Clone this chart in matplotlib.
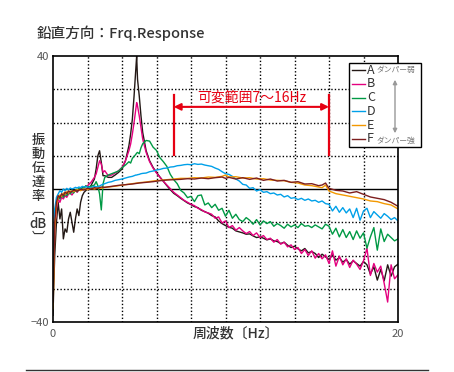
#!/usr/bin/env python3
# -*- coding: utf-8 -*-
"""
plot.py

Vertical transmissibility (Frq.Response) for damper settings A-F
"""
import matplotlib
matplotlib.use('Agg')
import matplotlib.pyplot as plt
from matplotlib.lines import Line2D
from matplotlib.patches import Rectangle, FancyArrowPatch

plt.rcParams['font.family'] = ['Noto Sans CJK JP', 'DejaVu Sans']

### data (dB vs Hz)

FREQ = [0.0, 0.05, 0.1,
        0.2, 0.3, 0.4, 0.5, 0.6, 0.7, 0.8, 0.9, 1.0,
        1.1, 1.2, 1.3, 1.4, 1.5, 1.6, 1.7, 1.8, 1.9, 2.0,
        2.2, 2.4, 2.5, 2.6, 2.7, 2.8, 2.9, 3.0,
        3.2, 3.4, 3.6, 3.8, 4.0, 4.2, 4.4,
        4.5, 4.6, 4.7, 4.8, 4.85, 4.9, 5.0, 5.1, 5.2,
        5.4, 5.6, 5.8, 6.0, 6.2, 6.4, 6.6, 6.8, 7.0,
        7.2, 7.4, 7.6, 7.8, 8.0, 8.2, 8.4, 8.6, 8.8, 9.0,
        9.2, 9.4, 9.6, 9.8, 10.0, 10.2, 10.4, 10.6, 10.8, 11.0,
        11.2, 11.4, 11.6, 11.8, 12.0, 12.2, 12.4, 12.6, 12.8, 13.0,
        13.2, 13.4, 13.6, 13.8, 14.0, 14.2, 14.4, 14.6, 14.8, 15.0,
        15.2, 15.4, 15.6, 15.8, 16.0, 16.2, 16.4, 16.6, 16.8, 17.0,
        17.2, 17.4, 17.6, 17.8, 18.0, 18.2, 18.4, 18.6, 18.8, 19.0,
        19.2, 19.4, 19.6, 19.8, 20.0]

A_DB = [-38, -28, -20,
        -10, -4, -9, -6, -15, -12, -13, -9, -7,
        -10, -13, -9, -6, -8, -4, -2, -1, -0.5, 0,
        1, 3, 6, 10, 11.5, 8, 4, 4,
        3.5, 3.5, 4.2, 5, 6, 8.5, 13,
        16.5, 21, 28, 36, 40, 33, 28, 22, 17,
        11.5, 8.5, 6.5, 5, 3.6, 2.3, 1.0, -0.2, -1.3,
        -2.0, -2.8, -3.5, -4.2, -4.7, -5.3, -5.6, -6.4, -6.8, -7.3,
        -8.0, -8.4, -9.6, -10.4, -11.0, -11.5, -11.8, -12.6, -12.9, -13.2,
        -13.6, -13.5, -14.1, -14.6, -14.4, -14.8, -15.3, -15.0, -15.6, -15.8,
        -16.4, -16.0, -16.9, -17.6, -17.2, -18.0, -18.6, -17.9, -19.2, -18.8,
        -19.4, -20.6, -19.6, -20.4, -21.2, -19.8, -21.4, -20.6, -22.0, -21.2,
        -22.6, -21.6, -22.4, -23.2, -21.8, -22.8, -25.6, -23.4, -27.4, -24.2,
        -27.6, -22.8, -26.2, -23.4, -22.6]

B_DB = [-26, -22, -12,
        -6, -3, -4, -2.5, -3, -2, -2.5, -1.5, -1.2,
        -1.8, -1, -0.5, -1, -0.3, 0, 0.3, 0.5, 0.8, 1,
        2, 3.5, 4.5, 6.5, 8.5, 7.5, 5, 5.5,
        4, 4.2, 4.8, 5.5, 6.5, 8.5, 11.5,
        13.5, 16.5, 20, 24, 26, 25, 22, 18.5, 15,
        11, 8.2, 6.3, 4.8, 3.5, 2.3, 1.2, 0.1, -1.0,
        -1.8, -2.6, -3.4, -4.0, -4.6, -5.0, -5.8, -6.2, -6.9, -7.2,
        -7.6, -8.8, -8.4, -10.2, -9.6, -11.6, -11.0, -12.4, -11.6, -12.6,
        -13.4, -12.8, -14.0, -13.2, -14.6, -14.0, -15.2, -14.8, -16.0, -15.2,
        -16.6, -16.0, -17.4, -16.8, -18.2, -17.6, -19.4, -18.2, -20.0, -18.6,
        -20.8, -19.4, -21.0, -19.8, -22.4, -18.6, -23.2, -20.2, -22.8, -21.0,
        -23.6, -21.4, -22.6, -24.2, -21.6, -17.8, -26.0, -22.4, -25.0, -23.2,
        -28.4, -34.0, -22.8, -27.0, -25.8]

C_DB = [-32, -20, -8,
        -4, -2.5, -3, -1.8, -2.5, -1.5, -2, -1, -1.5,
        -0.6, -1.2, -0.2, -0.8, 0.2, -0.3, 0.5, 0.2, 1.0, 0.5,
        0.8, 1.2, 2.2, 1.0, -1.5, -6.3, 1.5, 3.5,
        4.2, 4.6, 5.0, 5.4, 6.4, 7.2, 8.2,
        7.8, 9.2, 9.8, 10.4, 10.8, 11.0, 10.6, 12.4, 13.6,
        14.6, 14.4, 12.6, 11.6, 9.4, 8.2, 6.8, 4.4, 2.8,
        1.6, -0.4, -1.2, -2.6, -2.2, -3.8, -2.0, -1.8, -4.8, -4.2,
        -5.6, -4.6, -6.4, -5.8, -8.2, -6.4, -8.8, -7.6, -9.2, -9.8,
        -8.6, -9.4, -10.6, -9.2, -10.8, -9.6, -10.4, -9.8, -11.2, -10.4,
        -11.0, -11.8, -10.6, -11.4, -10.8, -11.6, -10.4, -11.2, -11.0, -11.6,
        -10.8, -11.4, -12.0, -10.6, -11.2, -13.6, -11.8, -14.4, -12.2, -14.6,
        -12.8, -15.2, -12.6, -14.8, -13.2, -17.8, -14.4, -11.6, -18.4, -12.0,
        -15.8, -13.6, -14.6, -15.6, -15.0]

D_DB = [-30, -18, -6,
        -2.5, -1.5, -0.5, -1.0, 0.0, -0.5, 0.2, -0.3, 0.3,
        0.0, 0.2, 0.5, 0.3, 0.6, 0.4, 0.8, 0.6, 0.7, 0.6,
        0.4, 0.8, 0.7, 0.6, 0.9, 1.2, 1.4, 1.6,
        2.0, 2.2, 2.6, 2.8, 3.0, 3.3, 3.6,
        3.7, 3.8, 4.0, 4.2, 4.2, 4.3, 4.4, 4.6, 4.7,
        4.8, 5.2, 5.4, 5.7, 5.9, 6.2, 6.3, 6.6, 6.7,
        7.0, 7.1, 7.3, 7.4, 7.3, 7.6, 7.4, 7.5, 7.2, 7.0,
        6.8, 6.3, 5.9, 5.2, 4.6, 4.4, 3.8, 3.0, 2.4, 1.4,
        1.2, 0.2, 0.4, -0.6, -0.2, -1.0, -0.8, -1.4, -1.2, -1.8,
        -1.6, -2.4, -2.0, -2.8, -2.6, -3.2, -2.8, -3.4, -3.0, -3.6,
        -3.4, -4.0, -3.6, -4.4, -4.6, -6.6, -5.2, -7.0, -5.6, -7.2,
        -6.0, -8.6, -5.8, -9.4, -6.6, -5.8, -8.6, -6.8, -7.8, -8.8,
        -7.4, -8.2, -9.2, -8.6, -9.6]

FREQ_EF = [0.0, 0.05, 0.1,
           0.2, 0.3, 0.4, 0.5, 0.6, 0.7, 0.8, 0.9, 1.0,
           1.2, 1.4, 1.6, 1.8, 2.0, 2.2, 2.4, 2.6, 2.8, 3.0,
           3.4, 3.8, 4.2, 4.6, 5.0, 5.4, 5.8, 6.2, 6.6, 7.0,
           7.4, 7.8, 8.2, 8.6, 9.0, 9.4, 9.8,
           10.0, 10.2,
           10.6, 11.0, 11.4, 11.8, 12.2, 12.6, 13.0, 13.4, 13.8, 14.2, 14.6, 15.0, 15.4,
           15.6, 15.8, 16.0,
           16.4, 16.8, 17.2, 17.6, 18.0, 18.4, 18.8, 19.2, 19.6, 20.0]

E_DB = [-36, -26, -12,
        -5, -2.5, -1.8, -2.2, -1.2, -1.6, -0.8, -1.2, -0.6,
        -0.8, -0.2, -0.5, 0.0, -0.2, 0.2, 0.0, 0.3, 0.2, 0.5,
        0.7, 1.0, 1.3, 1.6, 1.9, 2.1, 2.4, 2.6, 2.8, 3.0,
        3.2, 3.2, 3.4, 3.3, 3.6, 3.5, 3.8,
        4.2, 3.6,
        3.7, 3.3, 3.4, 3.0, 3.1, 2.7, 2.6, 2.5, 2.0, 1.8, 1.2, 1.0, 0.6,
        0.4, 1.2, -0.6,
        -1.4, -1.8, -2.2, -2.6, -3.0, -3.6, -3.8, -4.4, -4.8, -6.0]

F_DB = [-34, -24, -10,
        -4, -2.0, -2.6, -1.4, -2.0, -0.9, -1.4, -0.6, -1.0,
        -0.4, -0.6, -0.1, -0.3, 0.2, 0.0, 0.4, 0.2, 0.6, 0.5,
        0.8, 1.1, 1.3, 1.5, 1.8, 2.0, 2.2, 2.5, 2.7, 2.8,
        2.9, 3.1, 3.0, 3.3, 3.1, 3.4, 3.6,
        3.2, 3.5,
        3.0, 3.4, 2.9, 3.3, 2.6, 3.0, 2.4, 2.6, 2.0, 2.2, 1.5, 1.6, 1.0,
        1.2, 1.8, 0.2,
        -0.4, -0.6, -1.2, -0.8, -1.6, -2.4, -2.8, -3.2, -4.0, -5.2]

NAMES  = ['A', 'B', 'C', 'D', 'E', 'F']
COLORS = ['#231815', '#e4007f', '#009944', '#00a0e9', '#f39800', '#7d1e1e']

RANGE_HZ = [7, 16]
RANGE_LABEL = '可変範囲7〜16Hz'

W_PX, H_PX = 454, 372
RED = '#e60012'
TEXT = '#333333'


def fx(px):
    ''' pixel x -> figure fraction '''
    return px / W_PX


def fy(py):
    ''' pixel y (from top) -> figure fraction '''
    return 1 - py / H_PX


def setup_axes(fig):
    '''
    Axes, limits, dotted grid & frame
    '''
    axis = fig.add_axes([fx(53), fy(322), fx(345), 266 / H_PX])
    axis.set_xlim(0, 20)
    axis.set_ylim(-40, 40)
    axis.set_xticks([0, 20])
    axis.set_yticks([-40, 40])
    axis.set_xticks([2, 4, 6, 8, 10, 12, 14, 16, 18], minor=True)
    axis.set_yticks([-30, -20, -10, 10, 20, 30], minor=True)
    axis.tick_params(which='both', length=0, labelsize=8, labelcolor='#555555')
    axis.tick_params(axis='x', pad=5)
    axis.tick_params(axis='y', pad=3)
    axis.grid(which='minor', color='black', linestyle=(0, (1, 1.5)), linewidth=1.0)
    axis.axhline(0, color='black', linewidth=1.0, zorder=1.5)
    for spine in axis.spines.values():
        spine.set_linewidth(1.2)
    return axis


def plot_series(axis):
    '''
    Draw the six damper curves
    '''
    series = [(FREQ, A_DB), (FREQ, B_DB), (FREQ, C_DB),
              (FREQ, D_DB), (FREQ_EF, E_DB), (FREQ_EF, F_DB)]
    for (freq, vals), color in zip(series, COLORS):
        axis.plot(freq, vals, color=color, linewidth=1.0, zorder=2)


def plot_range(axis):
    '''
    Red bracket marking the adjustable range
    '''
    for hz in RANGE_HZ:
        axis.plot([hz, hz], [10.2, 28.3], color=RED, linewidth=1.6, zorder=3)
    axis.annotate('', xy=(RANGE_HZ[1], 24.7), xytext=(RANGE_HZ[0], 24.7),
                  arrowprops=dict(arrowstyle='<|-|>', color=RED, linewidth=1.5,
                                  mutation_scale=10, shrinkA=0, shrinkB=0),
                  zorder=3)
    axis.text(sum(RANGE_HZ) / 2 + 0.05, 27.6, RANGE_LABEL, color=RED,
              fontsize=10, ha='center', va='center', zorder=3)


def draw_legend(fig):
    '''
    Hand-built legend box (sticks out past the right spine)
    '''
    fig.add_artist(Rectangle((fx(349), fy(147)), fx(72), 84 / H_PX,
                             facecolor='white', edgecolor='black',
                             linewidth=1.0, zorder=5))
    for i, (name, color) in enumerate(zip(NAMES, COLORS)):
        y = fy(70 + i * 13.8)
        fig.add_artist(Line2D([fx(352), fx(365)], [y, y], color=color,
                              linewidth=1.0, zorder=6))
        fig.text(fx(367), y, name, fontsize=9, color=TEXT,
                 ha='left', va='center', zorder=6)
    fig.text(fx(377), fy(70), 'ダンパー弱', fontsize=5.6, color='#777777',
             ha='left', va='center', zorder=6)
    fig.text(fx(377), fy(141), 'ダンパー強', fontsize=5.6, color='#777777',
             ha='left', va='center', zorder=6)
    fig.add_artist(FancyArrowPatch((fx(395), fy(77)), (fx(395), fy(136)),
                                   arrowstyle='<|-|>', mutation_scale=6,
                                   color='#999999', linewidth=1.0,
                                   transform=fig.transFigure, zorder=6))


def main():
    fig = plt.figure(figsize=(W_PX / 100, H_PX / 100), dpi=100)
    axis = setup_axes(fig)
    plot_series(axis)
    plot_range(axis)
    draw_legend(fig)

    fig.text(fx(37), fy(33), '鉛直方向：Frq.Response', fontsize=10.5,
             color=TEXT, ha='left', va='center', fontweight='medium')
    fig.text(fx(236), fy(333), '周波数〔Hz〕', fontsize=10, color=TEXT,
             ha='center', va='center', fontweight='medium')
    fig.text(fx(38), fy(189), '振\n動\n伝\n達\n率\n︹\ndB\n︺', fontsize=9.5,
             color=TEXT, ha='center', va='center', linespacing=1.0,
             fontweight='medium')
    fig.add_artist(Line2D([fx(26), fx(428)], [fy(369.5), fy(369.5)],
                          color='#333333', linewidth=1.0))

    plt.savefig('out.png', dpi=100)


if __name__ == '__main__':
    main()
